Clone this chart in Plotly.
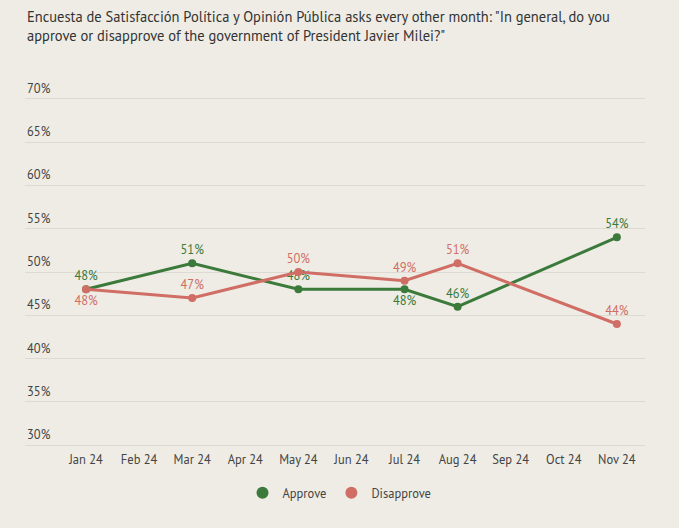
import plotly.graph_objects as go

months = ["Jan 24", "Feb 24", "Mar 24", "Apr 24", "May 24", "Jun 24",
          "Jul 24", "Aug 24", "Sep 24", "Oct 24", "Nov 24"]
survey_months = ["Jan 24", "Mar 24", "May 24", "Jul 24", "Aug 24", "Nov 24"]
approve = [48, 51, 48, 48, 46, 54]
disapprove = [48, 47, 50, 49, 51, 44]
approve_pos = ["top center", "top center", "top center", "bottom center", "top center", "top center"]
disapprove_pos = ["bottom center", "top center", "top center", "top center", "top center", "top center"]
yticks = [30, 35, 40, 45, 50, 55, 60, 65, 70]
title_text = ('Encuesta de Satisfacción Política y Opinión Pública asks every other month: "In general, do you'
              '<br>approve or disapprove of the government of President Javier Milei?"')

GREEN = "#3b7a3a"
RED = "#d06e66"
BG = "#eeece5"
TXT = "#444444"
FONT = "PT Sans, Liberation Sans Narrow, Roboto Condensed, Open Sans, sans-serif"

idx = {m: i for i, m in enumerate(months)}
fig = go.Figure()
for name, vals, pos, col in [("Approve", approve, approve_pos, GREEN),
                             ("Disapprove", disapprove, disapprove_pos, RED)]:
    fig.add_trace(go.Scatter(
        x=[idx[m] for m in survey_months], y=vals, name=name, showlegend=False,
        mode="lines+markers+text", line=dict(color=col, width=3),
        marker=dict(size=8, color=col),
        text=[f"{v}%" for v in vals], textposition=pos,
        textfont=dict(color=col, size=12.5)))
for name, col in [("Approve", GREEN), ("Disapprove", RED)]:
    fig.add_trace(go.Scatter(x=[None], y=[None], name=name, mode="markers",
                             marker=dict(size=13, color=col)))

fig.update_layout(
    width=679, height=528,
    paper_bgcolor=BG, plot_bgcolor=BG,
    font=dict(family=FONT, color=TXT, size=12),
    margin=dict(l=25, r=34, t=97, b=81, autoexpand=False),
    showlegend=True,
    legend=dict(orientation="h", x=0.5, xanchor="center", xref="container",
                y=0.066, yanchor="middle", yref="container", itemwidth=30,
                font=dict(size=12.5, color=TXT), itemsizing="constant"),
    xaxis=dict(tickmode="array", tickvals=list(range(len(months))), ticktext=months,
               range=[-1.15, 10.53], showgrid=False, zeroline=False, showline=False,
               automargin=False,
               ticks="", ticklabelstandoff=3, tickfont=dict(size=12.5, color=TXT)),
    yaxis=dict(range=[29.8, 70.2], tickvals=yticks, showticklabels=False,
               automargin=False,
               showgrid=True, gridcolor="#dcdad2",
               gridwidth=1, zeroline=False, showline=False, ticks=""),
)
for v in yticks:
    fig.add_annotation(text=f"{v}%", xref="paper", yref="y", x=0, y=v,
                       xanchor="left", yanchor="bottom", yshift=1, showarrow=False,
                       font=dict(size=12.5, color=TXT))
fig.add_annotation(text=title_text, xref="paper", yref="paper", x=0, y=1.262,
                   xanchor="left", yanchor="top", align="left", showarrow=False,
                   font=dict(size=14.5, color="#333333"))
fig.write_html("out.html")
